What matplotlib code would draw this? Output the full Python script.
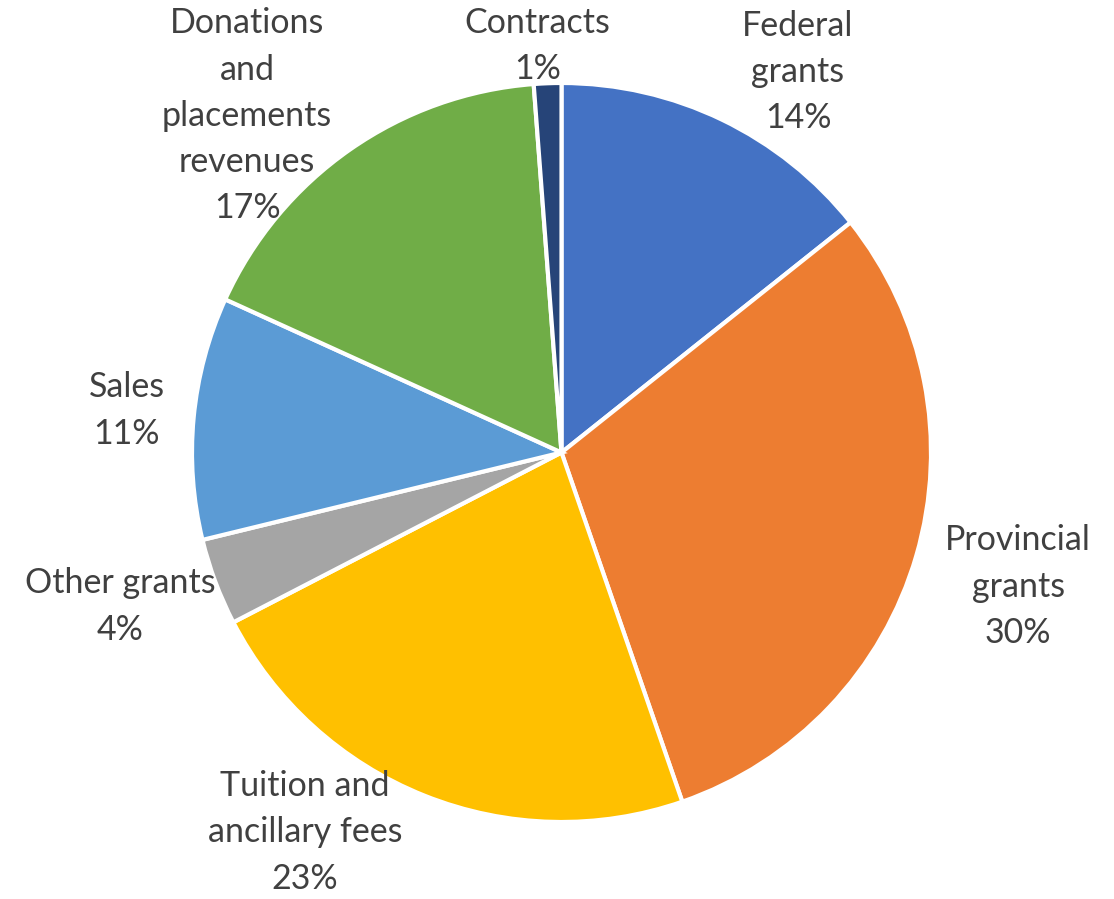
import matplotlib
matplotlib.use("Agg")
from matplotlib import pyplot as plt

# Revenue sources (share of total, %)
categories = ["Federal\ngrants", "Provincial\ngrants", "Tuition and\nancillary fees",
              "Other grants", "Sales", "Donations\nand\nplacements\nrevenues", "Contracts"]
shares = [14.3, 30.4, 22.7, 3.8, 10.6, 17.0, 1.2]
colors = ["#4472C4", "#ED7D31", "#FFC000", "#A5A5A5", "#5B9BD5", "#70AD47", "#264478"]

# label centres in data units (pie radius = 1)
label_pos = [(0.640, 1.030), (1.236, -0.363), (-0.694, -1.028), (-1.195, -0.417),
             (-1.176, 0.114), (-0.851, 0.911), (-0.065, 1.100)]

plt.rcParams['font.family'] = ['Lato', 'DejaVu Sans']

fig = plt.figure(figsize=(11.14, 8.99), dpi=100)
ax = fig.add_axes([192 / 1114, 77 / 899, 739 / 1114, 739 / 899])

wedges, _ = ax.pie(shares, colors=colors, startangle=90, counterclock=False,
                   radius=1, wedgeprops=dict(edgecolor="white", linewidth=3))

total = sum(shares)
for name, val, (x, y) in zip(categories, shares, label_pos):
    ax.text(x, y, f"{name}\n{val / total * 100:.0f}%", ha="center", va="center",
            fontsize=24.5, color="#404040", linespacing=1.55, clip_on=False)

ax.set_xlim(-1, 1)
ax.set_ylim(-1, 1)
ax.set_aspect("auto")
ax.axis("off")

plt.savefig("out.png", dpi=100)
plt.close()
